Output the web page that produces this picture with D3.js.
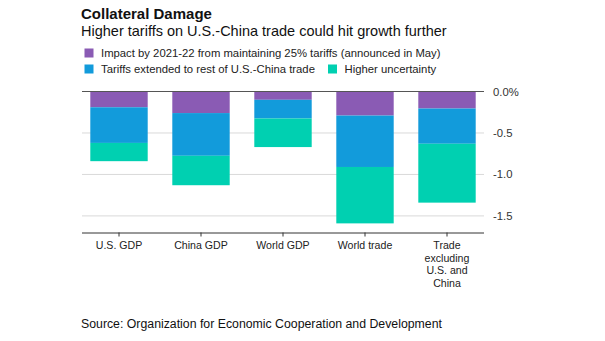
<!DOCTYPE html>
<html><head><meta charset="utf-8">
<script src="https://cdn.jsdelivr.net/npm/d3@7"></script>
<style>body{margin:0;background:#fff;} text{font-family:"Liberation Sans",Arial,sans-serif;}</style>
</head><body>
<svg id="c" width="605" height="341"></svg>
<script>
const categories = ["U.S. GDP","China GDP","World GDP","World trade","Trade excluding U.S. and China"];
const categoryLines = [["U.S. GDP"],["China GDP"],["World GDP"],["World trade"],["Trade","excluding","U.S. and","China"]];
const seriesNames = ["Impact by 2021-22 from maintaining 25% tariffs (announced in May)","Tariffs extended to rest of U.S.-China trade","Higher uncertainty"];
const maintain25 = [-0.19,-0.26,-0.10,-0.29,-0.205];
const extended = [-0.43,-0.515,-0.225,-0.62,-0.425];
const uncertainty = [-0.22,-0.355,-0.345,-0.68,-0.71];
const yTicks = [0,-0.5,-1.0,-1.5];
const yTickLabels = ["0.0%","-0.5","-1.0","-1.5"];
const colors = ["#8a5bb4","#129bdb","#00d0b1"];

const svg = d3.select("#c");
const x = d3.scaleBand().domain(categories).range([78,488]).paddingInner(0.3).paddingOuter(0.15);
const y = d3.scaleLinear().domain([0,-1.7]).range([91.5,232.5]);

// title
svg.append("text").attr("x",81).attr("y",18.5).attr("font-size",15).attr("font-weight","bold").attr("fill","#111").text("Collateral Damage");
svg.append("text").attr("x",81).attr("y",36).attr("font-size",14.5).attr("fill","#111").text("Higher tariffs on U.S.-China trade could hit growth further");

// legend
const leg = [{i:0,x:84.5,y:48.5},{i:1,x:84.5,y:64.5},{i:2,x:328,y:64.5}];
leg.forEach(l=>{
  svg.append("rect").attr("x",l.x).attr("y",l.y).attr("width",9).attr("height",9).attr("fill",colors[l.i]);
  svg.append("text").attr("x",l.x+16.5).attr("y",l.y+8.3).attr("font-size",11.3).attr("fill","#222").text(seriesNames[l.i]);
});

// gridlines
svg.append("g").selectAll("line").data(yTicks.slice(1)).join("line")
  .attr("x1",82).attr("x2",484).attr("y1",d=>y(d)).attr("y2",d=>y(d))
  .attr("stroke","#d9d9d9").attr("stroke-width",1);

// stacked bars
const series = [maintain25, extended, uncertainty];
categories.forEach((c,ci)=>{
  let acc = 0;
  series.forEach((s,si)=>{
    const top = acc, bot = acc + s[ci];
    svg.append("rect").attr("x",x(c)).attr("width",x.bandwidth())
      .attr("y",y(top)).attr("height",y(bot)-y(top)).attr("fill",colors[si]);
    acc = bot;
  });
});

// zero line
svg.append("line").attr("x1",82).attr("x2",484).attr("y1",y(0)).attr("y2",y(0)).attr("stroke","#555").attr("stroke-width",1);

// y labels
svg.append("g").selectAll("text").data(yTicks).join("text")
  .attr("x",493).attr("y",d=>y(d)+4).attr("font-size",11.3).attr("fill","#333")
  .text((d,i)=>yTickLabels[i]);

// x axis
const xAxis = d3.axisBottom(x).tickSize(4).tickFormat("");
const gx = svg.append("g").attr("transform",`translate(0,${y(-1.7)})`).call(xAxis);
gx.select(".domain").attr("stroke","#333").attr("d","M82,0.5H484");
gx.selectAll(".tick line").attr("stroke","#333");
categories.forEach((c,ci)=>{
  const t = svg.append("text").attr("text-anchor","middle").attr("font-size",10.6).attr("fill","#222")
    .attr("x",x(c)+x.bandwidth()/2).attr("y",249);
  categoryLines[ci].forEach((ln,li)=>t.append("tspan").attr("x",x(c)+x.bandwidth()/2).attr("dy",li?12.6:0).text(ln));
});

svg.append("text").attr("x",81).attr("y",327.5).attr("font-size",12.3).attr("fill","#111").text("Source: Organization for Economic Cooperation and Development");
</script>
</body></html>
